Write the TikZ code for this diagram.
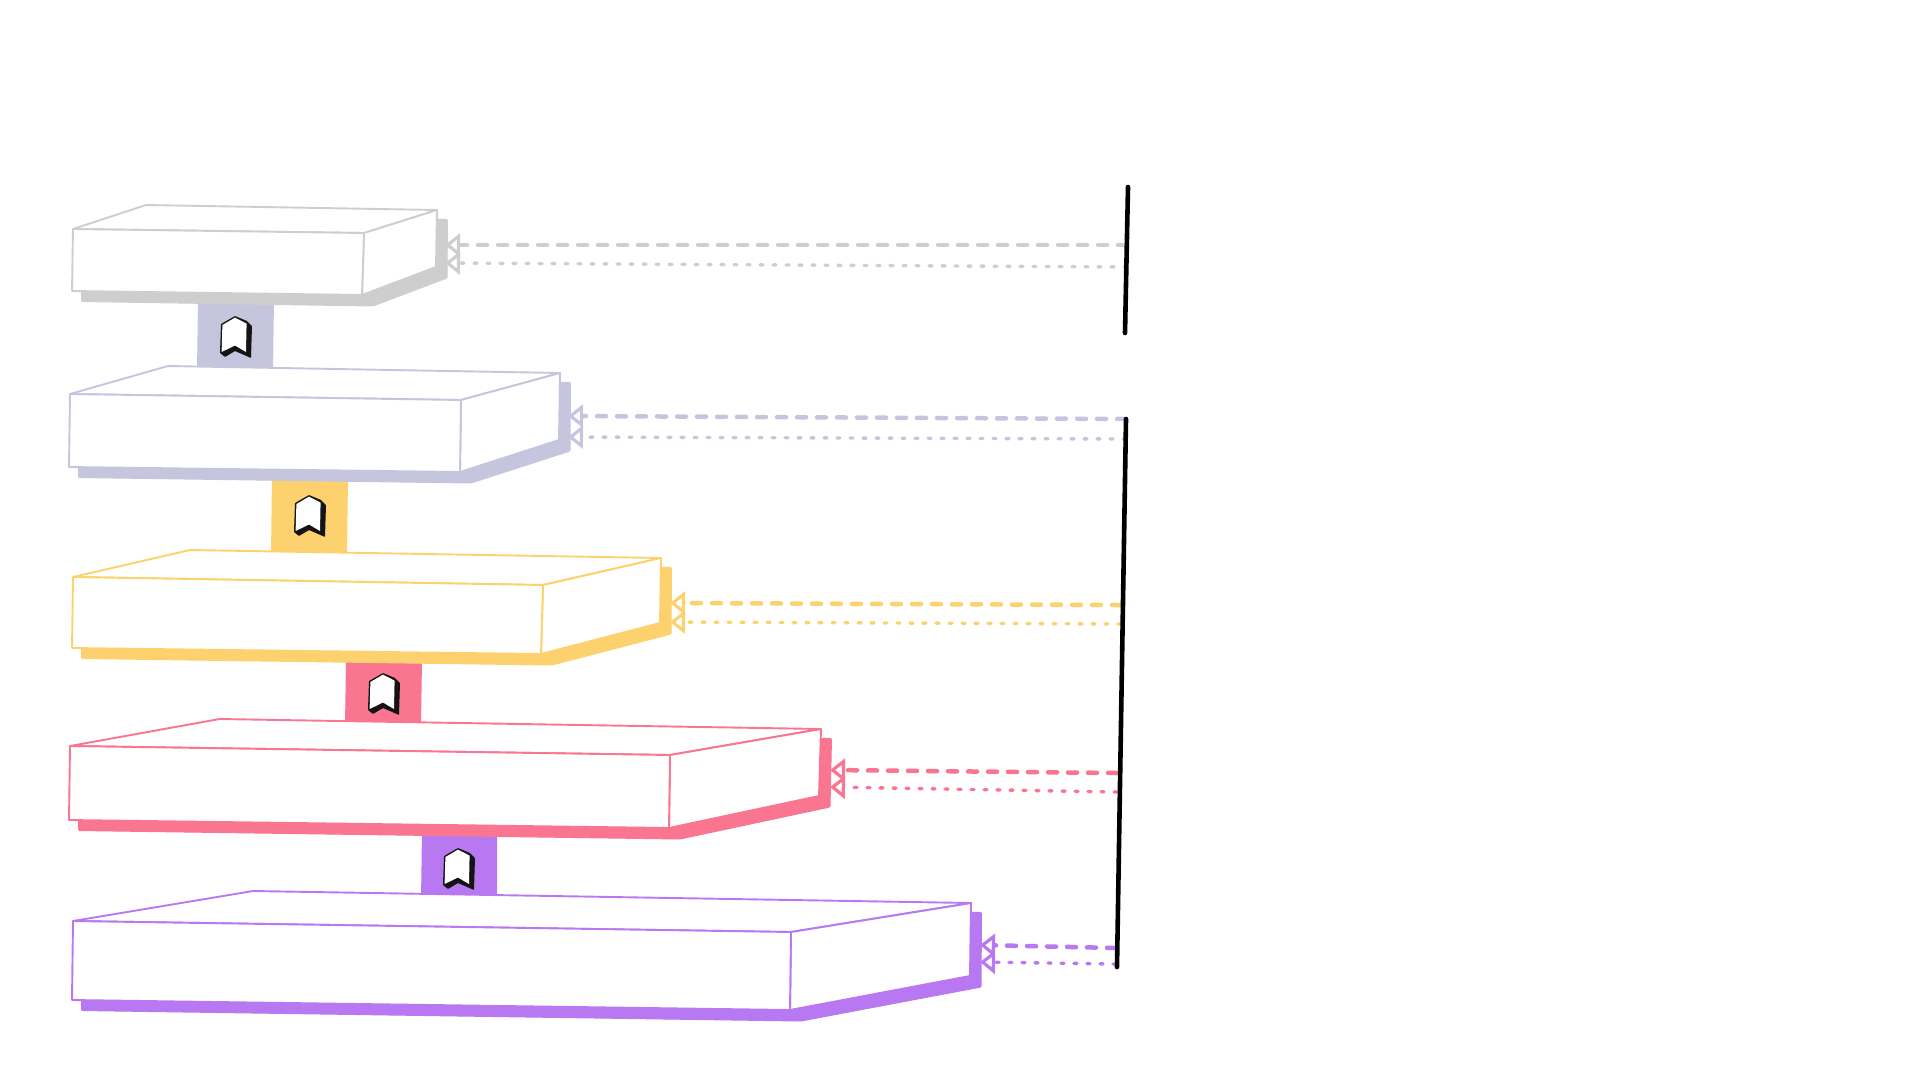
\documentclass[tikz,border=0pt]{standalone}
\usepackage{tikz}
\usetikzlibrary{arrows.meta}
\definecolor{layerA}{HTML}{CECECE}
\definecolor{layerB}{HTML}{C5C6DD}
\definecolor{layerC}{HTML}{FDD26E}
\definecolor{layerD}{HTML}{F97590}
\definecolor{layerE}{HTML}{B878F2}
\tikzset{
  boxface/.style={draw=#1,fill=white,line width=1.9pt,line join=round},
  boxshadow/.style={draw=#1,fill=#1,line width=1pt,rounded corners=1pt},
  linkbar/.style={fill=#1},
  dashlink/.style={draw=#1,line width=4.5pt,line cap=round,dash pattern=on 9pt off 11pt,
    -{Triangle[open,length=15pt,width=23pt,line width=3.2pt]}},
  dotlink/.style={draw=#1,line width=3.4pt,line cap=round,dash pattern=on 3pt off 10pt,
    -{Triangle[open,length=15pt,width=23pt,line width=3.2pt]}},
  sidebar/.style={draw=black,line width=4.6pt,line cap=round}
}

\begin{document}
\begin{tikzpicture}[x=1pt,y=-1pt]
\useasboundingbox (0,0) rectangle (1920,1080);

% corners of the layers
\coordinate (A1) at (73,229);
\coordinate (A2) at (364,233);
\coordinate (A3) at (362,295);
\coordinate (A4) at (72,291);
\coordinate (A5) at (146,205);
\coordinate (A6) at (437,210);
\coordinate (A7) at (436,267);

\coordinate (B1) at (70,394);
\coordinate (B2) at (461,400);
\coordinate (B3) at (460,472);
\coordinate (B4) at (69,467);
\coordinate (B5) at (168,366);
\coordinate (B6) at (560,373);
\coordinate (B7) at (559,440);

\coordinate (C1) at (73,577);
\coordinate (C2) at (543,585);
\coordinate (C3) at (541,654);
\coordinate (C4) at (72,648);
\coordinate (C5) at (190,550);
\coordinate (C6) at (661,558);
\coordinate (C7) at (660,623);

\coordinate (D1) at (70,746);
\coordinate (D2) at (670,755);
\coordinate (D3) at (669,828);
\coordinate (D4) at (69,820);
\coordinate (D5) at (219.5,719);
\coordinate (D6) at (821,729);
\coordinate (D7) at (819,796);

\coordinate (E1) at (73,921);
\coordinate (E2) at (791,932);
\coordinate (E3) at (790,1010);
\coordinate (E4) at (72,1000);
\coordinate (E5) at (253,891);
\coordinate (E6) at (971,903);
\coordinate (E7) at (970,976);

% links between the layers
\fill[linkbar=layerB] (198,300) -- (274,300) -- (273,372) -- (197,372) -- cycle;
\fill[linkbar=layerC] (272,476) -- (348,476) -- (347,556) -- (271,556) -- cycle;
\fill[linkbar=layerD] (346,660) -- (422,660) -- (421,726) -- (345,726) -- cycle;
\fill[linkbar=layerE] (422,832) -- (497,832) -- (497,900) -- (421,900) -- cycle;

\foreach \n/\c in {A/layerA,B/layerB,C/layerC,D/layerD,E/layerE} {
  \draw[boxshadow=\c] ([shift={(9.5,10.5)}]\n1) -- ([shift={(9.5,9.5)}]\n5) -- ([shift={(10.5,9.5)}]\n6)
    -- ([shift={(11,11)}]\n7) -- ([shift={(11,11)}]\n3) -- ([shift={(9.5,10.5)}]\n4) -- cycle;
  \draw[boxface=\c] (\n1) -- (\n5) -- (\n6) -- (\n2) -- cycle;
  \draw[boxface=\c] (\n2) -- (\n6) -- (\n7) -- (\n3) -- cycle;
  \draw[boxface=\c] (\n1) -- (\n2) -- (\n3) -- (\n4) -- cycle;
}

% ribbons on the links
\coordinate (ribbonA) at (235,316);
\coordinate (ribbonB) at (309,495);
\coordinate (ribbonC) at (383,673);
\coordinate (ribbonD) at (458,848);
\foreach \r in {ribbonA,ribbonB,ribbonC,ribbonD} {
  \begin{scope}[shift={(\r)}]
    \fill[black!92,rounded corners=.6pt] (0,0) -- (-14,8) -- (-15,37) -- (-10,41) -- (0,35)
      -- (16,42) -- (17,10) -- (12,5) -- cycle;
    \fill[white] (0,1.6) -- (-12.6,9) -- (-13.4,36) -- (0,29.5) -- (11,36) -- (11.6,7.6) -- cycle;
  \end{scope}
}

% ends on the side bars and on the layers
\coordinate (barA) at (1128,187);
\coordinate (barB) at (1125,333);
\coordinate (barC) at (1126,419);
\coordinate (barD) at (1117,967);

\coordinate (A8) at (1127,245);
\coordinate (A9) at (1127,267);
\coordinate (A10) at (445,245);
\coordinate (A11) at (445,263);

\coordinate (B8) at (1126,419);
\coordinate (B9) at (1126,439);
\coordinate (B10) at (568,416);
\coordinate (B11) at (568,437);

\coordinate (C8) at (1121,605);
\coordinate (C9) at (1121,624);
\coordinate (C10) at (670,603);
\coordinate (C11) at (670,622);

\coordinate (D8) at (1117,773);
\coordinate (D9) at (1117,792);
\coordinate (D10) at (830,770);
\coordinate (D11) at (830,787);

\coordinate (E8) at (1116,948);
\coordinate (E9) at (1116,964);
\coordinate (E10) at (980,945);
\coordinate (E11) at (980,962);

\foreach \n/\c in {A/layerA,B/layerB,C/layerC,D/layerD,E/layerE} {
  \draw[dashlink=\c] (\n8) -- (\n10);
  \draw[dotlink=\c] (\n9) -- (\n11);
}

\draw[sidebar] (barA) -- (barB);
\draw[sidebar] (barC) -- (barD);
\end{tikzpicture}
\end{document}
